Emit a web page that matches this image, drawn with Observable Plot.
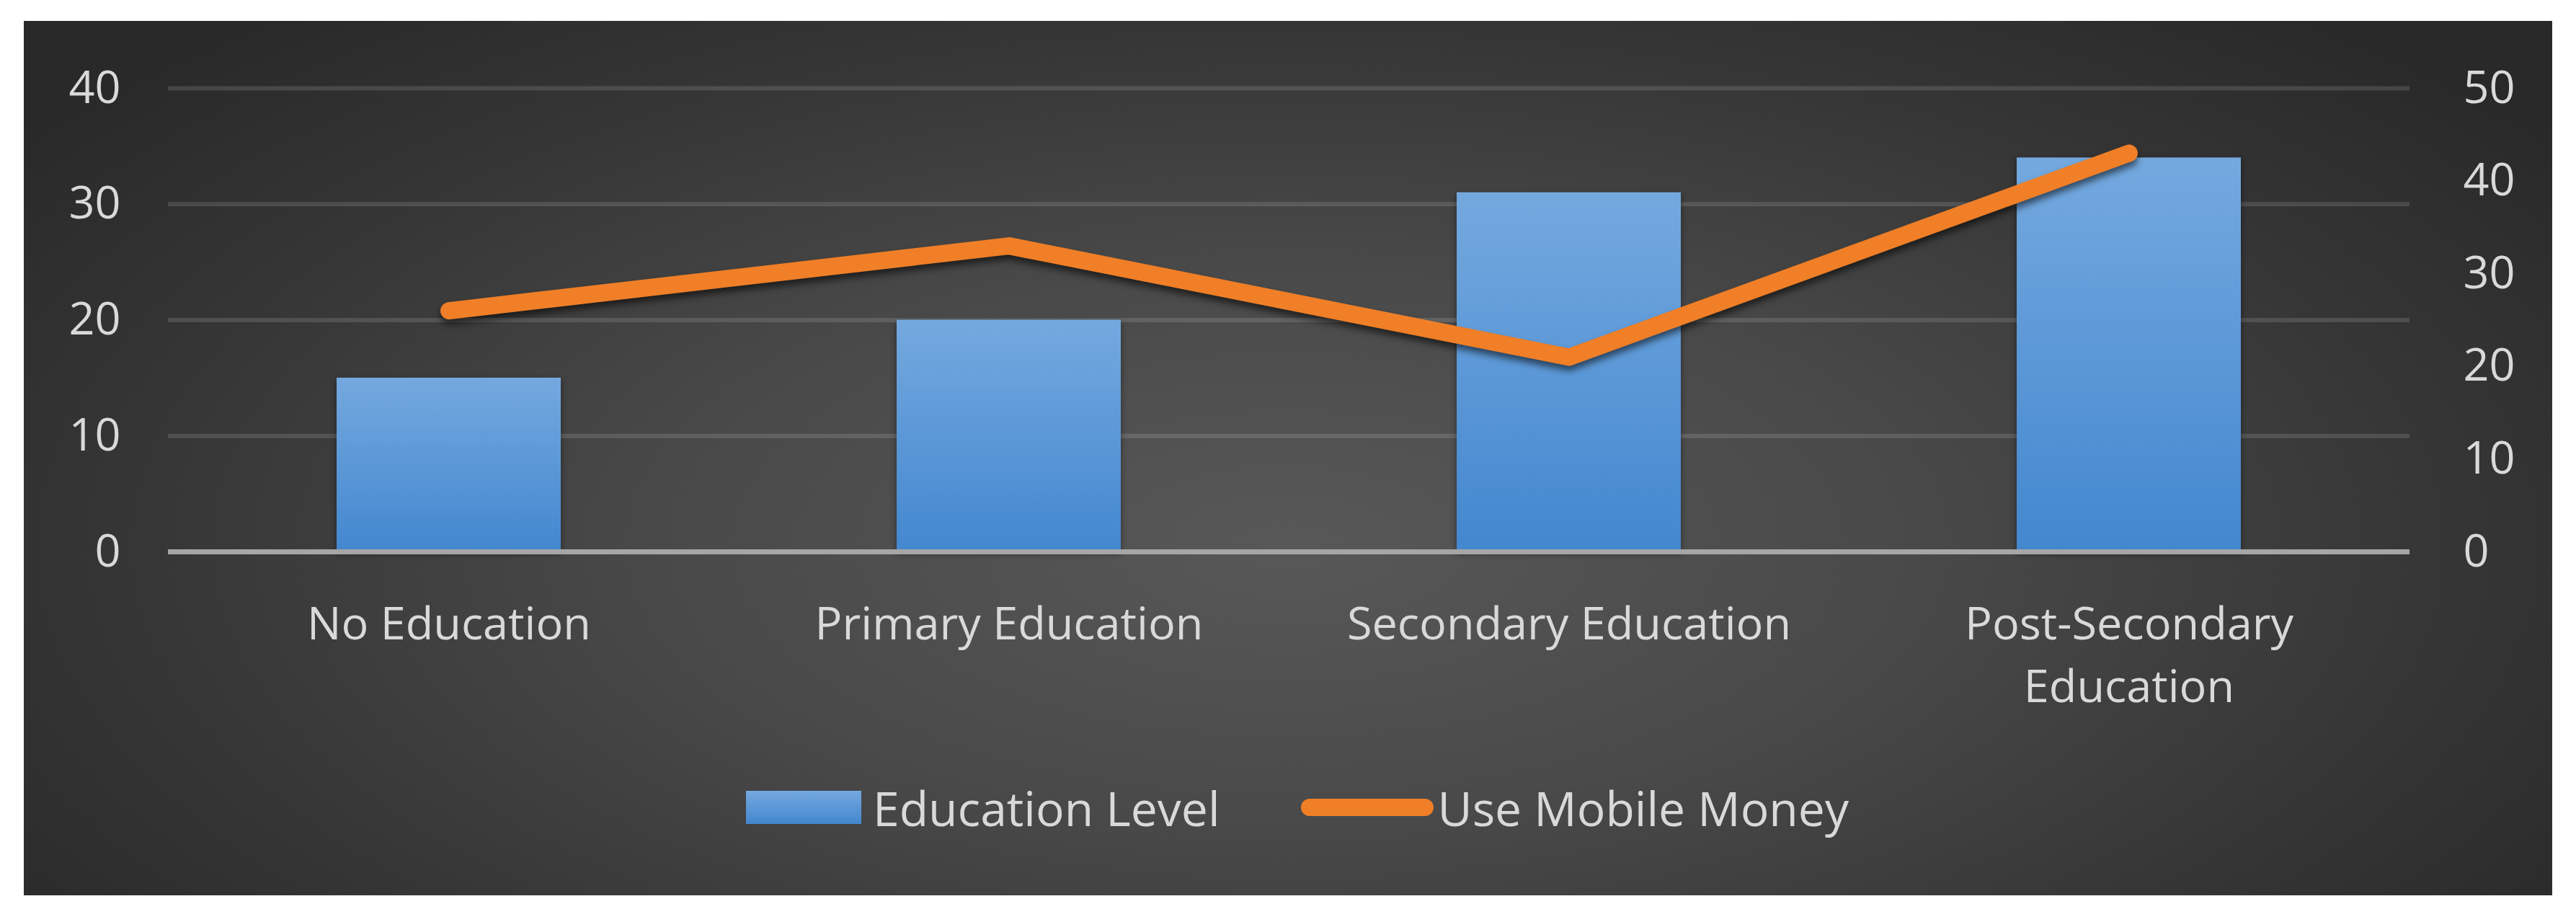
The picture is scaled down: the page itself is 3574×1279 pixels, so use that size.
<!DOCTYPE html>
<html>
<head>
<meta charset="utf-8">
<script src="https://cdn.jsdelivr.net/npm/d3@7"></script>
<script src="https://cdn.jsdelivr.net/npm/@observablehq/plot@0.6"></script>
<style>
  html, body { margin: 0; padding: 0; background: #ffffff; width: 3574px; height: 1279px; overflow: hidden; }
  #panel {
    position: absolute; left: 33px; top: 29px; width: 3508px; height: 1213px;
    background: radial-gradient(ellipse 62% 80% at 50% 60%, #585858 0%, #494949 40%, #353535 75%, #292929 100%);
    font-family: 'Open Sans', sans-serif; color: #d9d9d9;
  }
  #legend {
    height: 182px; display: flex; justify-content: center; align-items: center;
    font-size: 66px; color: #d9d9d9; padding-left: 26px;
  }
  .item { display: flex; align-items: center; }
  .sw-bar { width: 160px; height: 46px; background: linear-gradient(#74a9df, #4387cf); margin-right: 16px; }
  .sw-line { width: 184px; height: 24px; border-radius: 12px; background: #f07f27; margin-right: 6px; margin-left: 112px; }
</style>
</head>
<body>
<div id="panel"><div id="chart"></div><div id="legend"></div></div>
<script>
const categories = ["No Education", "Primary Education", "Secondary Education", "Post-Secondary Education"];
const xTickLabels = ["No Education", "Primary Education", "Secondary Education", "Post-Secondary\nEducation"];
const educationLevel = [15, 20, 31, 34];
const useMobileMoney = [26, 33, 21, 43];
const leftTicks = [0, 10, 20, 30, 40];
const rightTicks = [0, 10, 20, 30, 40, 50];
const seriesNames = ["Education Level", "Use Mobile Money"];

const barData = categories.map((c, i) => ({cat: c, val: educationLevel[i]}));
// right axis (0–50) mapped onto left scale (0–40)
const lineData = categories.map((c, i) => ({cat: c, val: useMobileMoney[i] * 4 / 5}));

const svg = Plot.plot({
  width: 3508, height: 1000,
  marginLeft: 200, marginRight: 198, marginTop: 93, marginBottom: 264,
  style: {background: "transparent", color: "#d9d9d9", fontFamily: "'Open Sans', sans-serif", fontSize: "63px", overflow: "visible"},
  x: {domain: categories, paddingInner: 0.6, paddingOuter: 0.3, label: null},
  y: {domain: [0, 40], label: null},
  marks: [
    Plot.gridY(leftTicks.slice(1), {stroke: "#ffffff", strokeOpacity: 0.13, strokeWidth: 6}),
    Plot.barY(barData, {x: "cat", y: "val", fill: "url(#barGrad)"}),
    Plot.ruleY([0], {stroke: "#a6a6a6", strokeWidth: 7}),
    Plot.line(lineData, {x: "cat", y: "val", stroke: "#f07f27", strokeWidth: 24, strokeLinecap: "round", strokeLinejoin: "round"}),
    Plot.axisY(leftTicks, {anchor: "left", tickSize: 0, tickPadding: 66, fontSize: 63, label: null}),
    Plot.axisY(rightTicks.map(t => t * 4 / 5), {anchor: "right", tickSize: 0, tickPadding: 74, fontSize: 63, label: null,
      tickFormat: d => String(Math.round(d * 5 / 4))}),
    Plot.axisX({tickSize: 0, tickPadding: 60, fontSize: 63, lineHeight: 1.38, lineAnchor: "top", label: null,
      tickFormat: d => xTickLabels[categories.indexOf(d)]})
  ]
});

const ns = "http://www.w3.org/2000/svg";
const defs = document.createElementNS(ns, "defs");
defs.innerHTML = `<linearGradient id="barGrad" x1="0" y1="0" x2="0" y2="1">
  <stop offset="0" stop-color="#74a9df"/><stop offset="1" stop-color="#4387cf"/></linearGradient>`;
svg.insertBefore(defs, svg.firstChild);
const lineG = svg.querySelector('g[aria-label="line"]');
if (lineG) lineG.style.filter = "drop-shadow(0px 7px 5px rgba(0,0,0,0.55))";
const barG = svg.querySelector('g[aria-label="bar"]');
if (barG) barG.style.filter = "drop-shadow(0px 3px 4px rgba(0,0,0,0.45))";
document.getElementById("chart").appendChild(svg);

const legend = document.getElementById("legend");
legend.innerHTML = `<div class="item"><div class="sw-bar"></div><span>${seriesNames[0]}</span></div>
<div class="item"><div class="sw-line"></div><span>${seriesNames[1]}</span></div>`;
</script>
</body>
</html>
